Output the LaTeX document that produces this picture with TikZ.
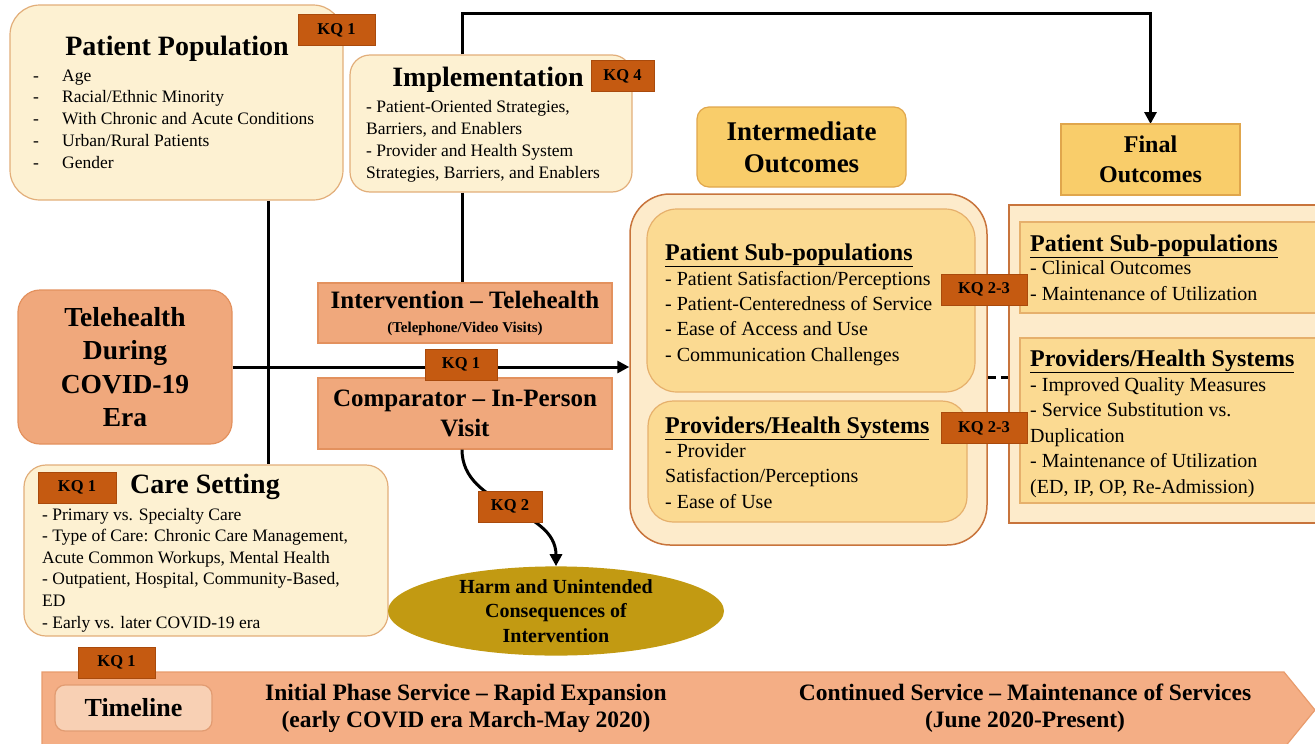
\documentclass[tikz,border=0pt]{standalone}
\usepackage{fontspec}
\setmainfont{Liberation Serif}
\usetikzlibrary{shapes.geometric,arrows.meta,positioning}

\definecolor{cream}{HTML}{FDF1D2}
\definecolor{creamline}{HTML}{E2AE7A}
\definecolor{kqfill}{HTML}{C55A11}
\definecolor{kqline}{HTML}{A94A0C}
\definecolor{salmonfill}{HTML}{F0A87C}
\definecolor{salmonline}{HTML}{E3915E}
\definecolor{goldfill}{HTML}{F9CD6A}
\definecolor{goldline}{HTML}{E0A64C}
\definecolor{panelfill}{HTML}{FDEBCB}
\definecolor{panelline}{HTML}{C8743C}
\definecolor{subfill}{HTML}{FBDA92}
\definecolor{subline}{HTML}{E6B06C}
\definecolor{harmfill}{HTML}{C29A12}
\definecolor{tlfill}{HTML}{F4AE85}
\definecolor{tlline}{HTML}{E89B6C}
\definecolor{tlboxfill}{HTML}{F8D0B4}
\definecolor{tlboxline}{HTML}{E29C72}

\begin{document}
\begin{tikzpicture}[x=1pt, y=-1pt,
  creambox/.style={draw=creamline, fill=cream, line width=1.2pt},
  kqtag/.style={draw=kqline, fill=kqfill, inner sep=0pt, minimum height=31pt,
    font=\bfseries\fontsize{16.5}{16.5}\selectfont},
  salmonbox/.style={draw=salmonline, fill=salmonfill, line width=1.2pt, inner sep=0pt},
  goldbox/.style={draw=goldline, fill=goldfill, line width=1.2pt, inner sep=0pt},
  panelbox/.style={draw=panelline, fill=panelfill, line width=1.5pt},
  subbox/.style={draw=subline, fill=subfill, line width=1.2pt},
  headtext/.style={inner sep=0pt, font=\bfseries\fontsize{28}{32}\selectfont},
  subhead/.style={anchor=base west, inner sep=0pt, font=\bfseries\fontsize{24}{28}\selectfont},
  itemtext/.style={anchor=base west, align=left, inner sep=0pt,
    font=\fontsize{17.5}{21.7}\selectfont},
  outtext/.style={itemtext, font=\fontsize{20}{25.3}\selectfont},
  wire/.style={line width=3pt},
  wirearrow/.style={wire, -{Triangle[length=12pt, width=12pt]}}]
\useasboundingbox (0,0) rectangle (1315,744);
\coordinate (vline) at (268,0);
\coordinate (vimpl) at (462,0);
\coordinate (toprail) at (0,13);
\coordinate (dashy) at (0,377);

% patient population
\node[creambox, rounded corners=30pt, minimum width=333pt, minimum height=195pt] (pop) at (176.5,102.5) {};
\node[headtext] (poptitle) at (177,49) {Patient Population};
\node[itemtext] (poplist) at (33,168) {\makebox[29pt][l]{-}Age\\
  \makebox[29pt][l]{-}Racial/Ethnic Minority\\
  \makebox[29pt][l]{-}With Chronic and Acute Conditions\\
  \makebox[29pt][l]{-}Urban/Rural Patients\\
  \makebox[29pt][l]{-}Gender};
\node[kqtag, minimum width=77pt] (kqpop) at (336.5,30) {KQ 1};

% implementation
\node[creambox, rounded corners=20pt, minimum width=282pt, minimum height=137pt] (impl) at (491,123.5) {};
\node[headtext] (impltitle) at (488,80) {Implementation};
\node[itemtext, font=\fontsize{17.5}{22}\selectfont] (impllist) at (366,178) {- Patient-Oriented Strategies,\\
  Barriers, and Enablers\\
  - Provider and Health System\\
  Strategies, Barriers, and Enablers};
\node[kqtag, minimum width=63pt] (kqimpl) at (622.5,76) {KQ 4};

% care setting
\node[creambox, rounded corners=22pt, minimum width=364pt, minimum height=171pt] (care) at (206,550.5) {};
\node[headtext] (caretitle) at (205,487) {Care Setting};
\node[itemtext, font=\fontsize{17.5}{21.6}\selectfont] (carelist) at (42,628) {- Primary vs. Specialty Care\\
  - Type of Care: Chronic Care Management,\\
  Acute Common Workups, Mental Health\\
  - Outpatient, Hospital, Community-Based,\\
  ED\\
  - Early vs. later COVID-19 era};
\node[kqtag, minimum width=78pt] (kqcare) at (77,487.5) {KQ 1};

% links on the left
\draw[wire] (pop.south -| vline) -- (care.north -| vline);
\draw[wire] (impl.south -| vimpl) -- (vimpl |- 0,283);
\draw[wirearrow] (impl.north -| vimpl) -- (vimpl |- toprail) -| (1150.5,124);

% telehealth and the two arms
\node[salmonbox, rounded corners=22pt, minimum width=214pt, minimum height=154pt, align=center,
  font=\bfseries\fontsize{27.5}{33.5}\selectfont] (tele) at (125,367) {Telehealth\\ During\\ COVID-19\\ Era};
\node[salmonbox, minimum width=294pt, minimum height=60pt, align=center,
  font=\bfseries\fontsize{25}{24}\selectfont] (interv) at (465,313)
  {Intervention -- Telehealth\\ \fontsize{15}{15}\selectfont (Telephone/Video Visits)};
\node[salmonbox, minimum width=294pt, minimum height=71pt, align=center,
  font=\bfseries\fontsize{25}{30}\selectfont] (compar) at (465,413.5) {Comparator -- In-Person\\ Visit};

% harm
\node[ellipse, fill=harmfill, minimum width=336pt, minimum height=80pt, inner sep=0pt, align=center,
  font=\bfseries\fontsize{20}{24.5}\selectfont] (harm) at (556,611)
  {Harm and Unintended\\ Consequences of\\ Intervention};
\draw[wirearrow] (compar.south -| vimpl) to[out=-90, in=90] (harm.north);
\node[kqtag, minimum width=64pt] (kqharm) at (510,506.5) {KQ 2};

% intermediate outcomes
\node[goldbox, rounded corners=12pt, minimum width=209pt, minimum height=80pt, align=center,
  font=\bfseries\fontsize{27}{32}\selectfont] (intertitle) at (801.5,147) {Intermediate\\ Outcomes};
\node[panelbox, rounded corners=40pt, minimum width=357pt, minimum height=351pt] (inter) at (808.5,369.5) {};
\node[subbox, rounded corners=30pt, minimum width=328pt, minimum height=183pt] (ipat) at (811,300.5) {};
\node[subhead] (ipattitle) at (665,260) {\underline{Patient Sub-populations}};
\node[outtext] (ipatlist) at (665,361) {- Patient Satisfaction/Perceptions\\
  - Patient-Centeredness of Service\\
  - Ease of Access and Use\\
  - Communication Challenges};
\node[subbox, rounded corners=25pt, minimum width=319pt, minimum height=121pt] (iprov) at (807.5,461.5) {};
\node[subhead] (iprovtitle) at (665,433) {\underline{Providers/Health Systems}};
\node[outtext] (iprovlist) at (665,508) {- Provider\\
  Satisfaction/Perceptions\\
  - Ease of Use};

\draw[wirearrow] (tele.east) -- (inter.west |- tele.east);

% final outcomes
\node[goldbox, minimum width=179pt, minimum height=71pt, align=center,
  font=\bfseries\fontsize{24}{30}\selectfont] (finaltitle) at (1150.5,159.5) {Final\\ Outcomes};
\node[panelbox, minimum width=321pt, minimum height=318pt] (final) at (1169.5,364) {};
\node[subbox, minimum width=310pt, minimum height=91pt] (fpat) at (1175,267.5) {};
\node[subhead] (fpattitle) at (1030,251) {\underline{Patient Sub-populations}};
\node[outtext] (fpatlist) at (1030,300) {- Clinical Outcomes\\
  - Maintenance of Utilization};
\node[subbox, minimum width=310pt, minimum height=165pt] (fprov) at (1175,420.5) {};
\node[subhead] (fprovtitle) at (1030,366) {\underline{Providers/Health Systems}};
\node[outtext, font=\fontsize{20}{25.5}\selectfont] (fprovlist) at (1030,493) {- Improved Quality Measures\\
  - Service Substitution vs.\\
  Duplication\\
  - Maintenance of Utilization\\
  (ED, IP, OP, Re-Admission)};

\draw[wire, dash pattern=on 8pt off 5pt] (inter.east |- dashy) -- (final.west |- dashy);
\node[kqtag, minimum width=86pt] (kqpat) at (984,289.5) {KQ 2-3};
\node[kqtag, minimum width=86pt] (kqprov) at (984,428) {KQ 2-3};
\node[kqtag, minimum width=72pt] (kqarm) at (461,364.5) {KQ 1};

% timeline
\draw[draw=tlline, fill=tlfill, line width=1.2pt] (42,672) -- (1284,672) -- (1315,710) -- (1284,748) -- (42,748) -- cycle;
\node[draw=tlboxline, fill=tlboxfill, line width=1.2pt, rounded corners=10pt, minimum width=157pt,
  minimum height=46pt, font=\bfseries\fontsize{26}{30}\selectfont] (tlbox) at (133.5,708) {Timeline};
\node[align=center, font=\bfseries\fontsize{23.5}{27}\selectfont] (phaseone) at (466,708)
  {Initial Phase Service -- Rapid Expansion\\ (early COVID era March-May 2020)};
\node[align=center, font=\bfseries\fontsize{23.5}{27}\selectfont] (phasetwo) at (1025,708)
  {Continued Service -- Maintenance of Services\\ (June 2020-Present)};
\node[kqtag, minimum width=77pt] (kqtime) at (116.5,662.5) {KQ 1};
\end{tikzpicture}
\end{document}
